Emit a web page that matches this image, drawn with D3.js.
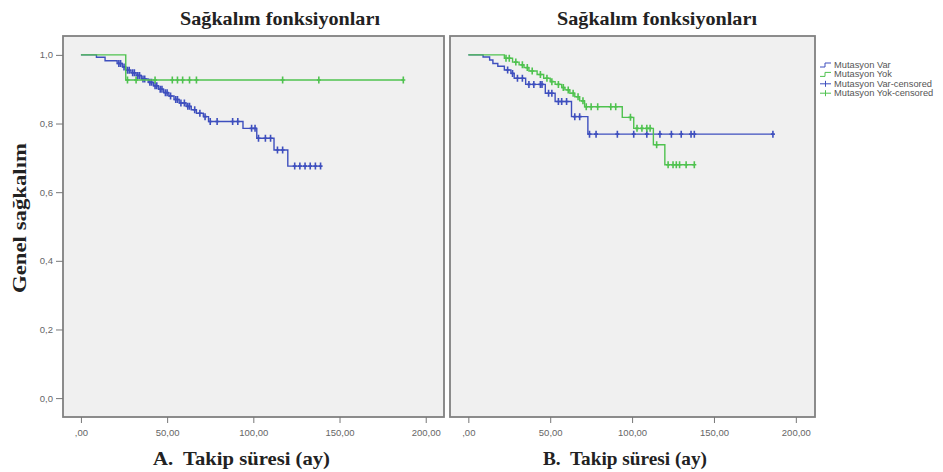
<!DOCTYPE html>
<html>
<head>
<meta charset="utf-8">
<script src="https://cdn.jsdelivr.net/npm/d3@7"></script>
<style>
  body { margin: 0; background: #fff; }
  .tick-lbl { font-family: "Liberation Sans", Arial, sans-serif; font-size: 9.5px; fill: #666; }
  .ttl { font-family: "Liberation Serif", "Times New Roman", serif; font-weight: bold; fill: #222; white-space: pre; }
  .leg { font-family: "Liberation Sans", Arial, sans-serif; font-size: 9.3px; fill: #555; }
</style>
</head>
<body>
<div id="chart"></div>
<script>
// ---- data ----
var xTicks = [0, 50, 100, 150, 200],
    xTickLabels = [",00", "50,00", "100,00", "150,00", "200,00"],
    yTicks = [0, 0.2, 0.4, 0.6, 0.8, 1.0],
    yTickLabels = ["0,0", "0,2", "0,4", "0,6", "0,8", "1,0"];

// panel A - Mutasyon Var (step times / survival after step)
var aVarTimes = [0, 9, 14, 21, 24, 26, 29, 32, 35, 39, 42, 45, 48, 51, 54, 57, 61, 64, 67, 71, 74, 94, 102, 112, 120],
    aVarSurv  = [1, 0.993, 0.983, 0.975, 0.965, 0.955, 0.948, 0.94, 0.93, 0.92, 0.91, 0.9, 0.89, 0.88, 0.87, 0.86, 0.85, 0.84, 0.83, 0.82, 0.806, 0.786, 0.757, 0.723, 0.676],
    aVarCens  = [22, 23, 25, 27, 28, 30, 31, 33, 34, 36, 37, 40, 41, 43, 44, 46, 47, 49, 50, 52, 55, 56, 58, 60, 62, 63, 66, 69, 72, 75, 79, 88, 91, 99, 101, 103, 107, 110, 114, 117, 124, 127, 130, 133, 136, 139];
// panel A - Mutasyon Yok
var aYokTimes = [0, 26],
    aYokSurv  = [1, 0.927],
    aYokCens  = [27, 32, 43, 53, 56, 59, 63, 67, 117, 138, 187];

// panel B - Mutasyon Var
var bVarTimes = [0, 9, 13, 15, 18, 22, 26, 28, 35, 47, 53, 63, 73],
    bVarSurv  = [1, 0.994, 0.985, 0.975, 0.967, 0.956, 0.946, 0.932, 0.914, 0.888, 0.864, 0.82, 0.769],
    bVarCens  = [24, 27, 30, 33, 37, 40, 44, 45, 49, 51, 55, 57, 60, 65, 68, 74, 78, 91, 101, 109, 117, 124, 130, 136, 138, 186];
// panel B - Mutasyon Yok
var bYokTimes = [0, 22, 27, 31, 34, 37, 42, 46, 50, 53, 57, 59, 62, 65, 68, 71, 94, 101, 113, 120],
    bYokSurv  = [1, 0.99, 0.979, 0.971, 0.963, 0.953, 0.943, 0.932, 0.922, 0.914, 0.905, 0.898, 0.888, 0.878, 0.866, 0.849, 0.818, 0.786, 0.738, 0.68],
    bYokCens  = [23, 25, 29, 33, 36, 39, 44, 48, 51, 55, 58, 61, 64, 67, 70, 72, 75, 79, 87, 90, 99, 103, 106, 109, 111, 115, 122, 125, 127, 129, 133, 138];

var blue = "#3e4fbe", green = "#4fc24f";

var W = 943, H = 472;
var svg = d3.select("#chart").append("svg").attr("width", W).attr("height", H);

// survival value at time t from a step series
function survAt(times, surv, t) {
  var s = surv[0];
  for (var i = 0; i < times.length; i++) { if (times[i] <= t) s = surv[i]; }
  return s;
}

var line = d3.line().curve(d3.curveStepAfter)
    .x(function(d) { return d.x; }).y(function(d) { return d.y; });

function drawPanel(box, series, title, xlabel) {
  // box: frame in pixels
  var x = d3.scaleLinear().domain([box.x0d, box.x1d]).range([box.left, box.right]);
  var y = d3.scaleLinear().domain([-0.055, 1.055]).range([box.bottom, box.top]);
  var g = svg.append("g");

  g.append("rect")
    .attr("x", box.left).attr("y", box.top)
    .attr("width", box.right - box.left).attr("height", box.bottom - box.top)
    .attr("fill", "#f0f0f0").attr("stroke", "#808080").attr("stroke-width", 1.8);

  // x axis
  var xa = g.append("g").attr("transform", "translate(0," + box.bottom + ")")
    .call(d3.axisBottom(x).tickValues(xTicks).tickSize(6).tickFormat(function(d, i) { return xTickLabels[i]; }));
  xa.select(".domain").remove();
  xa.selectAll("line").attr("stroke", "#777");
  xa.selectAll("text").attr("class", "tick-lbl").attr("dy", "1.0em");

  // y axis
  if (box.yaxis) {
    var ya = g.append("g").attr("transform", "translate(" + box.left + ",0)")
      .call(d3.axisLeft(y).tickValues(yTicks).tickSize(7).tickFormat(function(d, i) { return yTickLabels[i]; }));
    ya.select(".domain").remove();
    ya.selectAll("line").attr("stroke", "#777");
    ya.selectAll("text").attr("class", "tick-lbl");
  }

  series.forEach(function(s) {
    var pts = s.times.map(function(t, i) { return {x: x(t), y: y(s.surv[i])}; });
    var tEnd = d3.max(s.cens);
    pts.push({x: x(tEnd), y: y(s.surv[s.surv.length - 1])});
    g.append("path").attr("d", line(pts))
      .attr("fill", "none").attr("stroke", s.color).attr("stroke-width", 1.4);

    g.selectAll(null).data(s.cens).enter().append("path")
      .attr("transform", function(t) { return "translate(" + x(t) + "," + y(survAt(s.times, s.surv, t)) + ")"; })
      .attr("d", "M0,-3.5V3.5M-2,0H2")
      .attr("stroke", s.color).attr("stroke-width", 1.6).attr("fill", "none");
  });

  g.append("text").attr("class", "ttl").attr("x", box.titleX).attr("y", 25)
    .attr("text-anchor", "middle").style("font-size", "19px")
    .attr("textLength", 200).attr("lengthAdjust", "spacingAndGlyphs").text(title);
  g.append("text").attr("class", "ttl").attr("x", box.xlabX).attr("y", 465)
    .attr("text-anchor", "middle").style("font-size", "19px")
    .attr("textLength", box.xlabLen).attr("lengthAdjust", "spacingAndGlyphs").text(xlabel);
}

drawPanel({left: 63, right: 444, top: 36, bottom: 417, x0d: -10.4, x1d: 210.6, yaxis: true,
           titleX: 280, xlabX: 241.5, xlabLen: 177},
  [{times: aVarTimes, surv: aVarSurv, cens: aVarCens, color: blue},
   {times: aYokTimes, surv: aYokSurv, cens: aYokCens, color: green}],
  "Sağkalım fonksiyonları", "A.  Takip süresi (ay)");

drawPanel({left: 450, right: 815, top: 36, bottom: 417, x0d: -11.2, x1d: 211.7, yaxis: false,
           titleX: 657, xlabX: 625, xlabLen: 164},
  [{times: bVarTimes, surv: bVarSurv, cens: bVarCens, color: blue},
   {times: bYokTimes, surv: bYokSurv, cens: bYokCens, color: green}],
  "Sağkalım fonksiyonları", "B.  Takip süresi (ay)");

// y label
svg.append("text").attr("class", "ttl")
  .attr("transform", "translate(26,218) rotate(-90)")
  .attr("text-anchor", "middle").style("font-size", "19px")
  .attr("textLength", 150).attr("lengthAdjust", "spacingAndGlyphs").text("Genel sağkalım");

// legend
var legend = [
  {label: "Mutasyon Var", color: blue, type: "step"},
  {label: "Mutasyon Yok", color: green, type: "step"},
  {label: "Mutasyon Var-censored", color: blue, type: "cens"},
  {label: "Mutasyon Yok-censored", color: green, type: "cens"}
];
var lg = svg.append("g").attr("transform", "translate(820,65)");
legend.forEach(function(d, i) {
  var row = lg.append("g").attr("transform", "translate(0," + (i * 9.4) + ")");
  if (d.type == "step") {
    row.append("path").attr("d", "M0,2H5V-2H11").attr("fill", "none").attr("stroke", d.color).attr("stroke-width", 1);
  } else {
    row.append("path").attr("d", "M0,0H11M5.5,-3V3").attr("fill", "none").attr("stroke", d.color).attr("stroke-width", 1);
  }
  row.append("text").attr("class", "leg").attr("x", 14).attr("y", 3).text(d.label);
});
</script>
</body>
</html>
